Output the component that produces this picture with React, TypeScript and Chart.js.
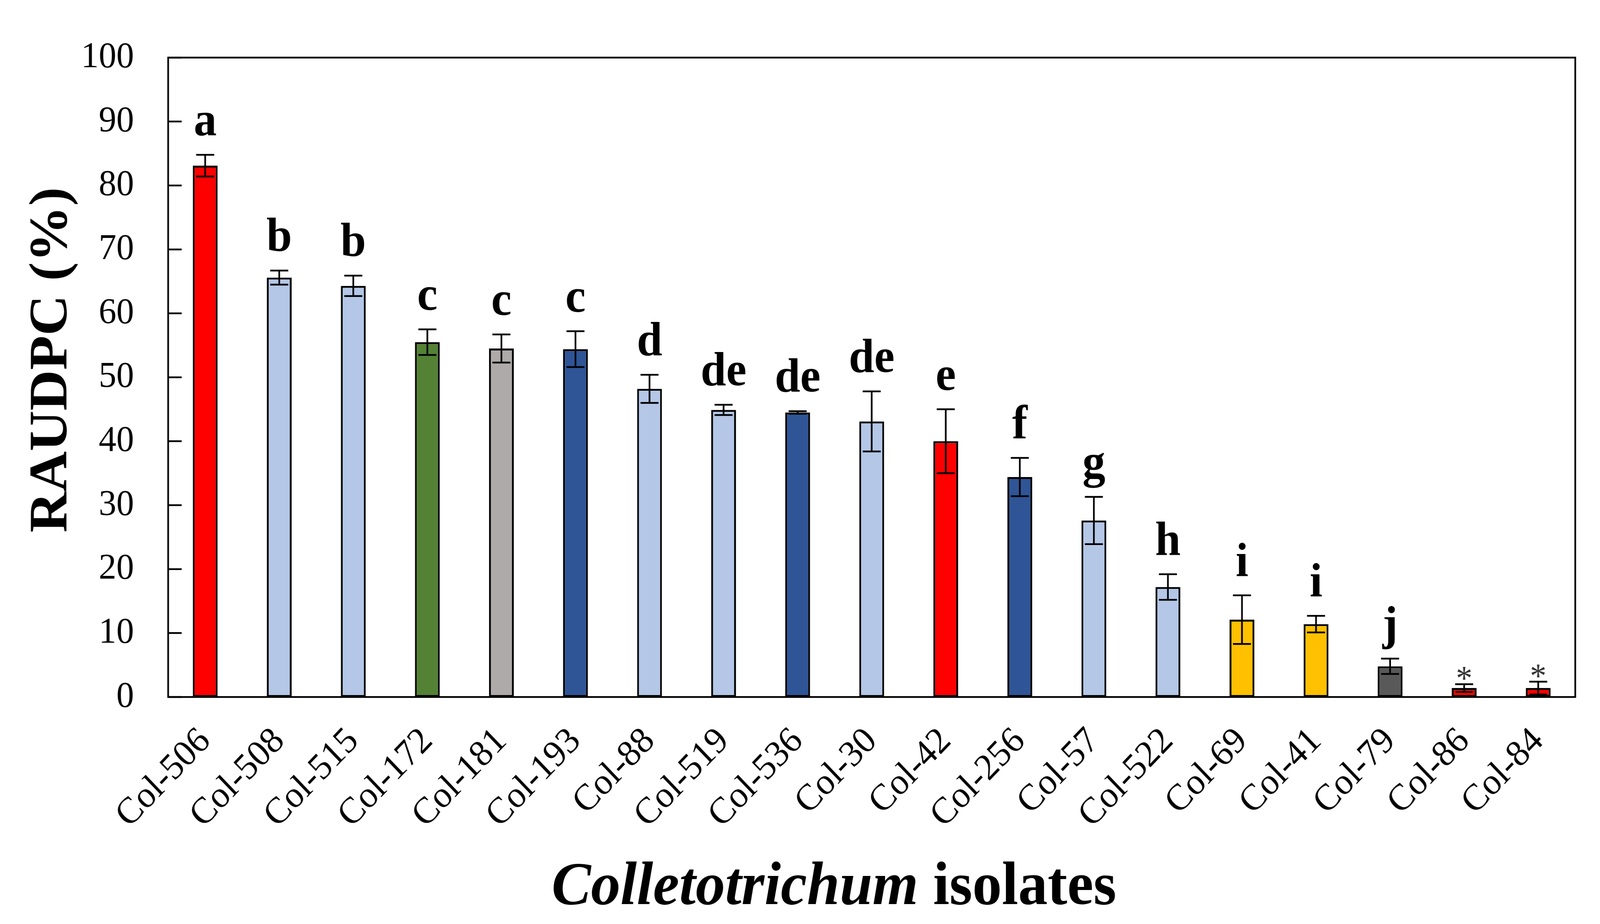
import { useEffect, useRef } from "react"
import { Chart, registerables } from "chart.js"

Chart.register(...registerables)

const isolates = [
  "Col-506", "Col-508", "Col-515", "Col-172", "Col-181", "Col-193", "Col-88",
  "Col-519", "Col-536", "Col-30", "Col-42", "Col-256", "Col-57", "Col-522",
  "Col-69", "Col-41", "Col-79", "Col-86", "Col-84",
]
const raudpc = [83.1, 65.6, 64.3, 55.5, 54.5, 54.4, 48.2, 44.9, 44.5, 43.1, 40.0, 34.4, 27.6, 17.2, 12.1, 11.4, 4.8, 1.4, 1.4]
const stdErr = [1.7, 1.1, 1.6, 2.0, 2.2, 2.8, 2.2, 0.8, 0.2, 4.7, 5.0, 3.0, 3.7, 2.0, 3.8, 1.3, 1.2, 0.6, 1.0]
const groups = ["a", "b", "b", "c", "c", "c", "d", "de", "de", "de", "e", "f", "g", "h", "i", "i", "j", "*", "*"]
const barColors = [
  "#FF0000", "#B4C7E7", "#B4C7E7", "#548235", "#AEAAAA", "#2F5597", "#B4C7E7",
  "#B4C7E7", "#2F5597", "#B4C7E7", "#FF0000", "#2F5597", "#B4C7E7", "#B4C7E7",
  "#FFC000", "#FFC000", "#595959", "#FF0000", "#FF0000",
]

const W = 4263
const H = 2365
const SERIF = '"Liberation Serif", "Times New Roman", serif'

// error bars + significance letters over each bar
const errorBars = {
  id: "errorBars",
  afterDatasetsDraw(chart: any) {
    const { ctx } = chart
    const y = chart.scales.y
    const meta = chart.getDatasetMeta(0)
    ctx.save()
    ctx.strokeStyle = "#000"
    ctx.lineWidth = 4.5
    meta.data.forEach((bar: any, i: number) => {
      const x = bar.x
      const top = y.getPixelForValue(raudpc[i] + stdErr[i])
      const bot = y.getPixelForValue(raudpc[i] - stdErr[i])
      ctx.beginPath()
      ctx.moveTo(x, top)
      ctx.lineTo(x, bot)
      ctx.moveTo(x - 24, top)
      ctx.lineTo(x + 24, top)
      ctx.moveTo(x - 24, bot)
      ctx.lineTo(x + 24, bot)
      ctx.stroke()

      ctx.textAlign = "center"
      ctx.textBaseline = "alphabetic"
      if (groups[i] === "*") {
        ctx.font = `88px ${SERIF}`
        ctx.fillStyle = "#333"
        ctx.fillText("*", x, top + 14)
      } else {
        ctx.font = `bold 122px ${SERIF}`
        ctx.fillStyle = "#000"
        ctx.fillText(groups[i], x, top - 50)
      }
    })
    ctx.restore()
  },
}

// box frame, inward ticks, axis titles (x title mixes italic and upright)
const frame = {
  id: "frame",
  afterDraw(chart: any) {
    const { ctx, chartArea } = chart
    const { left, right, top, bottom } = chartArea
    const y = chart.scales.y
    ctx.save()
    ctx.strokeStyle = "#000"
    ctx.lineWidth = 4.5
    ctx.beginPath()
    y.ticks.forEach((t: any) => {
      const py = y.getPixelForValue(t.value)
      ctx.moveTo(left, py)
      ctx.lineTo(left + 36, py)
    })
    ctx.stroke()
    ctx.strokeRect(left, top, right - left, bottom - top)

    ctx.fillStyle = "#000"

    // y title
    ctx.save()
    ctx.translate(140, 921)
    ctx.rotate(-Math.PI / 2)
    ctx.textAlign = "center"
    ctx.textBaseline = "middle"
    ctx.font = `bold 144px ${SERIF}`
    ctx.fillText("RAUDPC (%)", 0, 0)
    ctx.restore()

    // x title
    const italic = "Colletotrichum"
    const rest = " isolates"
    ctx.textBaseline = "alphabetic"
    ctx.textAlign = "left"
    ctx.font = `italic bold 157px ${SERIF}`
    const w1 = ctx.measureText(italic).width
    ctx.font = `bold 157px ${SERIF}`
    const w2 = ctx.measureText(rest).width
    const x0 = 2222 - (w1 + w2) / 2
    ctx.font = `italic bold 157px ${SERIF}`
    ctx.fillText(italic, x0, 2314)
    ctx.font = `bold 157px ${SERIF}`
    ctx.fillText(rest, x0 + w1, 2314)
    ctx.restore()
  },
}

export default function App() {
  const canvasRef = useRef<HTMLCanvasElement>(null)
  const chartRef = useRef<Chart | null>(null)

  useEffect(() => {
    if (!canvasRef.current) return
    if (chartRef.current) chartRef.current.destroy()

    chartRef.current = new Chart(canvasRef.current, {
      type: "bar",
      data: {
        labels: isolates,
        datasets: [
          {
            label: "RAUDPC",
            data: raudpc,
            backgroundColor: barColors,
            borderColor: "#000",
            borderWidth: 5,
            borderSkipped: false,
            barPercentage: 0.335,
            categoryPercentage: 1,
          },
        ],
      },
      options: {
        responsive: false,
        animation: false,
        devicePixelRatio: 1,
        layout: { padding: { left: 0, right: 66, top: 126, bottom: 0 } },
        plugins: {
          legend: { display: false },
          tooltip: { enabled: false },
        },
        scales: {
          x: {
            grid: { display: false, drawTicks: false },
            border: { display: false },
            ticks: {
              color: "#000",
              font: { family: SERIF, size: 95 },
              minRotation: 45,
              maxRotation: 45,
              autoSkip: false,
              padding: 58,
            },
            afterFit: (scale: any) => {
              scale.height = 581
            },
          },
          y: {
            min: 0,
            max: 100,
            grid: { display: false, drawTicks: false },
            border: { display: false },
            ticks: {
              stepSize: 10,
              color: "#000",
              font: { family: SERIF, size: 94 },
              padding: 91,
            },
            afterFit: (scale: any) => {
              scale.width = 448
            },
          },
        },
      },
      plugins: [errorBars, frame],
    })

    return () => {
      if (chartRef.current) chartRef.current.destroy()
      chartRef.current = null
    }
  }, [])

  // the viewport may be narrower than the drawing, so the canvas is stretched to fill it
  return (
    <div style={{ position: "fixed", left: 0, top: 0, width: "100vw", height: "100vh", background: "#fff" }}>
      <canvas
        ref={canvasRef}
        width={W}
        height={H}
        style={{ display: "block", width: "100%", height: "100%" }}
      />
    </div>
  )
}
